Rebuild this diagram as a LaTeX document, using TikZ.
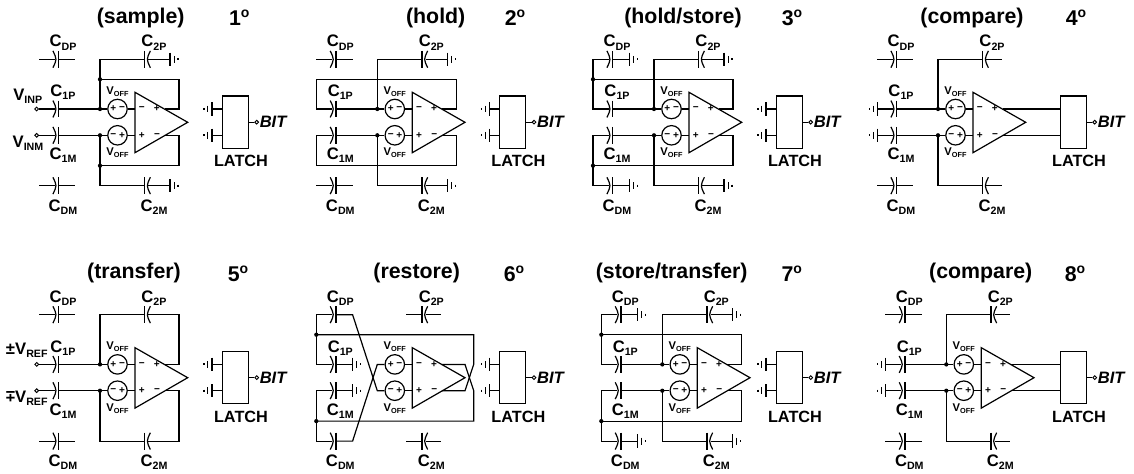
\documentclass[tikz,border=0pt]{standalone}
\usepackage{fontspec}
\setmainfont{Liberation Sans}
\usetikzlibrary{calc}
\newcommand\fsz[1]{\fontsize{#1}{#1}\selectfont}
\newcommand\Lab[2]{\fsz{12.5pt}#1\raisebox{-0.2em}{\fsz{8pt}#2}}
\newcommand\Vf[1]{\fsz{8.4pt}V\raisebox{-0.16em}{\fsz{5.5pt}#1}}
\newcommand\Deg[1]{#1\raisebox{0.38em}{\fsz{10.5pt}o}}
\tikzset{
 x=0.75pt,y=-0.75pt,
 wire/.style={line width=0.9pt,line cap=butt,line join=miter},
 txt/.style={inner sep=0pt,outer sep=0pt,font=\bfseries},
 capbox/.style={inner sep=0pt,outer sep=0pt,minimum width=2.8pt,minimum height=12.6pt},
 dotn/.style={circle,fill=black,inner sep=0pt,minimum size=3.2pt},
 term/.style={circle,draw,fill=white,line width=0.7pt,inner sep=0pt,minimum size=2.8pt},
 vsrc/.style={circle,draw,line width=0.9pt,fill=white,inner sep=0pt,minimum size=14.6pt},
 latchbox/.style={draw,line width=0.9pt,inner sep=0pt,minimum width=19.5pt,minimum height=39.2pt},
 sgn/.style={inner sep=0pt,outer sep=0pt,font=\bfseries\fsz{7.5pt}},
}
% capacitor: curved plate on the left
\newcommand\capL[3]{%
 \node[capbox] (#1) at (#2,#3) {};
 \draw[wire] (#1.north east) -- (#1.south east);
 \draw[wire] ($(#1.north west)+(-2,0)$) .. controls ($(#1.west)+(2,0)$) .. ($(#1.south west)+(-2,0)$);
}
% capacitor: curved plate on the right
\newcommand\capR[3]{%
 \node[capbox] (#1) at (#2,#3) {};
 \draw[wire] (#1.north west) -- (#1.south west);
 \draw[wire] ($(#1.north east)+(2,0)$) .. controls ($(#1.east)+(-2,0)$) .. ($(#1.south east)+(2,0)$);
}
% ground symbols, wire end at named coordinate
\newcommand\gnd[2]{% #1 coordinate name, #2 direction (+1 right, -1 left)
 \draw[wire] ($(#1)+(0,-6.7)$) -- ($(#1)+(0,6.7)$);
 \draw[wire] ($(#1)+(#2*4.2,-3.4)$) -- ($(#1)+(#2*4.2,3.4)$);
 \draw[wire] ($(#1)+(#2*8,-1)$) -- ($(#1)+(#2*8,1)$);
}
\newcommand\Panel[8]{% #1 name, #2 dx, #3 dy, #4 title, #5 title x, #6 number, #7 number x, #8 wiring
 \begin{scope}[shift={(#2,#3)},name prefix=#1-]
 \coordinate (J1) at (100,109); \coordinate (J2) at (100,135.3);
 \coordinate (jT) at (100,59.3); \coordinate (jB) at (100,185.7);
 \coordinate (fT) at (100,79.3); \coordinate (fB) at (100,165.7);
 \coordinate (lT) at (39,59.3); \coordinate (lU) at (39,79.3);
 \coordinate (lP) at (39,109); \coordinate (lM) at (39,135.3);
 \coordinate (lD) at (39,165.7); \coordinate (lB) at (39,185.7);
 \coordinate (gDP) at (75.3,59.3); \coordinate (gDM) at (75.3,185.7);
 \coordinate (g1P) at (75.3,109); \coordinate (g1M) at (75.3,135.3);
 \coordinate (gT) at (170,59.3); \coordinate (gB) at (170,185.7);
 \coordinate (eT) at (163.5,59.3); \coordinate (eB) at (163.5,185.7);
 \coordinate (sT) at (129,59.3); \coordinate (sB) at (129,185.7);
 \coordinate (rT) at (179,59.3); \coordinate (rU) at (179,79.3);
 \coordinate (rP) at (179,109); \coordinate (rM) at (179,135.3);
 \coordinate (rD) at (179,165.7); \coordinate (rB) at (179,185.7);
 \coordinate (xU) at (196.4,79.3); \coordinate (xP) at (196.4,109);
 \coordinate (xM) at (196.4,135.3); \coordinate (xD) at (196.4,165.7);
 \coordinate (yP) at (187.7,109); \coordinate (yM) at (187.7,135.3);
 \coordinate (aT) at (135,92.3); \coordinate (aB) at (135,152.7); \coordinate (aO) at (187.7,122.3);
 \coordinate (iP) at (135,109); \coordinate (iM) at (135,135.3);
 \coordinate (oP) at (164.6,109); \coordinate (oM) at (164.6,135.3);
 \node[txt,font=\bfseries\fsz{16pt}] (title) at (#5-#2,18) {#4};
 \node[txt,font=\bfseries\fsz{16pt}] (num) at (#7-#2,18) {\Deg{#6}};
 \capL{cDP}{56.8}{59.3} \capL{c1P}{56.8}{109} \capL{c1M}{56.8}{135.3} \capL{cDM}{56.8}{185.7}
 \capR{c2P}{146.5}{59.3} \capR{c2M}{146.5}{185.7}
 \node[txt] (lDP) at (63,42.7) {\Lab{C}{DP}};
 \node[txt] (l2P) at (154,42.7) {\Lab{C}{2P}};
 \node[txt] (l1P) at (63,92.5) {\Lab{C}{1P}};
 \node[txt] (l1M) at (63,155.5) {\Lab{C}{1M}};
 \node[txt] (lDM) at (63,207) {\Lab{C}{DM}};
 \node[txt] (l2M) at (154,207) {\Lab{C}{2M}};
 \draw[wire] (aT) -- (aO) -- (aB) -- cycle;
 \node[vsrc] (vP) at (117.5,109) {};
 \node[vsrc] (vM) at (117.5,135.3) {};
 \node[sgn] (vPa) at (113.4,109) {+}; \node[sgn] (vPb) at (122,109) {−};
 \node[sgn] (vMa) at (113.4,135.3) {−}; \node[sgn] (vMb) at (122,135.3) {+};
 \node[sgn] (aPa) at (141.7,109) {−}; \node[sgn] (aPb) at (156.7,109) {+};
 \node[sgn] (aMa) at (141.7,135.3) {+}; \node[sgn] (aMb) at (157,135.3) {−};
 \node[txt] (off1) at (117.5,91.3) {\Vf{OFF}};
 \node[txt] (off2) at (117.5,153) {\Vf{OFF}};
 \draw[wire] (vP) -- (iP) (vM) -- (iM);
 #8
 \end{scope}
}
\newcommand\Latch[2]{% #1 xshift in px, #2 connection: 0 grounds, 1 amp outputs
 \begin{scope}[xshift=#1*0.75pt]
 \node[latchbox] (L) at (235.3,122.2) {};
 \coordinate (pP) at (222.3,109); \coordinate (pM) at (222.3,135.3);
 \coordinate (qP) at (212,109); \coordinate (qM) at (212,135.3);
 \node[term] (tB) at (256.7,122.2) {};
 \node[txt,font=\bfseries\itshape\fsz{12.4pt},anchor=west] (BIT) at (259.8,122.2) {BIT};
 \node[txt,font=\bfseries\fsz{12.2pt}] (LT) at (241,161.3) {LATCH};
 \draw[wire] (L.east) -- (tB);
 \ifnum#2=0
 \draw[wire] (qP) -- (pP) (qM) -- (pM);
 \gnd{qP}{-1} \gnd{qM}{-1}
 \else
 \draw[wire] (oP) -- (pP) (oM) -- (pM);
 \fi
 \end{scope}
}
% wiring fragments
\newcommand\Cdfree{\draw[wire] (lT) -- (cDP.west) (cDP.east) -- (gDP) (lB) -- (cDM.west) (cDM.east) -- (gDM);}
\newcommand\Cdgnd{\draw[wire] (lU) -- (lT) -- (cDP.west) (cDP.east) -- (gDP) (lD) -- (lB) -- (cDM.west) (cDM.east) -- (gDM); \gnd{gDP}{1} \gnd{gDM}{1}}
\newcommand\CtwoGnd{\draw[wire] (J1) -- (jT) -- (c2P.west) (c2P.east) -- (gT) (J2) -- (jB) -- (c2M.west) (c2M.east) -- (gB); \gnd{gT}{1} \gnd{gB}{1}}
\newcommand\CtwoFree{\draw[wire] (J1) -- (jT) -- (c2P.west) (c2P.east) -- (eT) (J2) -- (jB) -- (c2M.west) (c2M.east) -- (eB);}
\newcommand\Inner{\draw[wire] (c1P.east) -- (J1) -- (vP) (c1M.east) -- (J2) -- (vM);
 \node[dotn] (dJ1) at (J1) {}; \node[dotn] (dJ2) at (J2) {};}
\newcommand\Terms{\node[term] (t1) at (36.7,109) {}; \node[term] (t2) at (36.7,135.3) {};
 \draw[wire] (t1) -- (c1P.west) (t2) -- (c1M.west);}
\newcommand\LeftGnd{\coordinate (h1) at (39.3,109); \coordinate (h2) at (39.3,135.3);
 \draw[wire] (h1) -- (c1P.west) (h2) -- (c1M.west); \gnd{h1}{-1} \gnd{h2}{-1}}
\newcommand\FbLeft{\draw[wire] (c1P.west) -- (lP) -- (lU) -- (rU) -- (rP) -- (oP) (c1M.west) -- (lM) -- (lD) -- (rD) -- (rM) -- (oM);}
\begin{document}
\begin{tikzpicture}
\useasboundingbox (0,0) rectangle (1134,474);
% 1
\Panel{p1}{0}{0}{(sample)}{140.7}{1}{239.3}{
 \Cdfree \CtwoGnd \Inner \Terms
 \draw[wire] (fT) -- (rU) -- (rP) -- (oP) (fB) -- (rD) -- (rM) -- (oM);
 \node[dotn] (dT) at (fT) {}; \node[dotn] (dB) at (fB) {};
 \node[txt] (vi) at (27.7,96) {\Lab{V}{INP}};
 \node[txt] (vm) at (28,143.5) {\Lab{V}{INM}};
 \Latch{0}{0}}
% 2
\Panel{p2}{277.3}{0}{(hold)}{435.7}{2}{515}{
 \Cdfree \CtwoGnd \Inner \FbLeft
 \Latch{0}{0}}
% 3
\Panel{p3}{554}{0}{(hold/store)}{683}{3}{792}{
 \Cdgnd \CtwoGnd \Inner \FbLeft
 \node[dotn] (dT) at (lU) {}; \node[dotn] (dB) at (lD) {};
 \Latch{0}{0}}
% 4
\Panel{p4}{838}{0}{(compare)}{972}{4}{1076}{
 \Cdfree \CtwoFree \Inner \LeftGnd
 \Latch{0}{1}}
% 5
\Panel{p5}{0}{255.4}{(transfer)}{134}{5}{238}{
 \Cdfree \Inner \Terms
 \draw[wire] (J1) -- (jT) -- (c2P.west) (c2P.east) -- (rT) -- (rP) -- (oP)
   (J2) -- (jB) -- (c2M.west) (c2M.east) -- (rB) -- (rM) -- (oM);
 \node[txt,anchor=west] (vr1) at (6,95) {\fsz{12.5pt}±\Lab{V}{REF}};
 \node[txt,anchor=west] (vr2) at (6,142.8) {\fsz{12.5pt}\rotatebox[origin=c]{180}{±}\Lab{V}{REF}};
 \Latch{0}{0}}
% 6
\Panel{p6}{277.3}{255.4}{(restore)}{416.7}{6}{514}{
 \draw[wire] (lU) -- (lT) -- (cDP.west) (lD) -- (lB) -- (cDM.west);
 \draw[wire] (cDP.east) -- (gDP) -- (J2) -- (vM);
 \draw[wire] (cDM.east) -- (gDM) -- (J1) -- (vP);
 \draw[wire] (lU) -- (lP) -- (c1P.west) (c1P.east) -- (g1P);
 \draw[wire] (lD) -- (lM) -- (c1M.west) (c1M.east) -- (g1M);
 \gnd{g1P}{1} \gnd{g1M}{1}
 \draw[wire] (sT) -- (c2P.west) (c2P.east) -- (eT) (sB) -- (c2M.west) (c2M.east) -- (eB);
 \draw[wire] (lU) -- (xU) -- (xP) -- (yM) -- (oM);
 \draw[wire] (lD) -- (xD) -- (xM) -- (yP) -- (oP);
 \node[dotn] (dT) at (lU) {}; \node[dotn] (dB) at (lD) {};
 \Latch{0}{0}}
% 7
\Panel{p7}{562.3}{255.4}{(store/transfer)}{671.7}{7}{791.7}{
 \Cdgnd \CtwoGnd \Inner \FbLeft
 \node[dotn] (dT) at (lU) {}; \node[dotn] (dB) at (lD) {};
 \Latch{-8.3}{0}}
% 8
\Panel{p8}{846.3}{255.4}{(compare)}{980.7}{8}{1075}{
 \Cdfree \CtwoFree \Inner \LeftGnd
 \Latch{-8.3}{1}}
\end{tikzpicture}
\end{document}
